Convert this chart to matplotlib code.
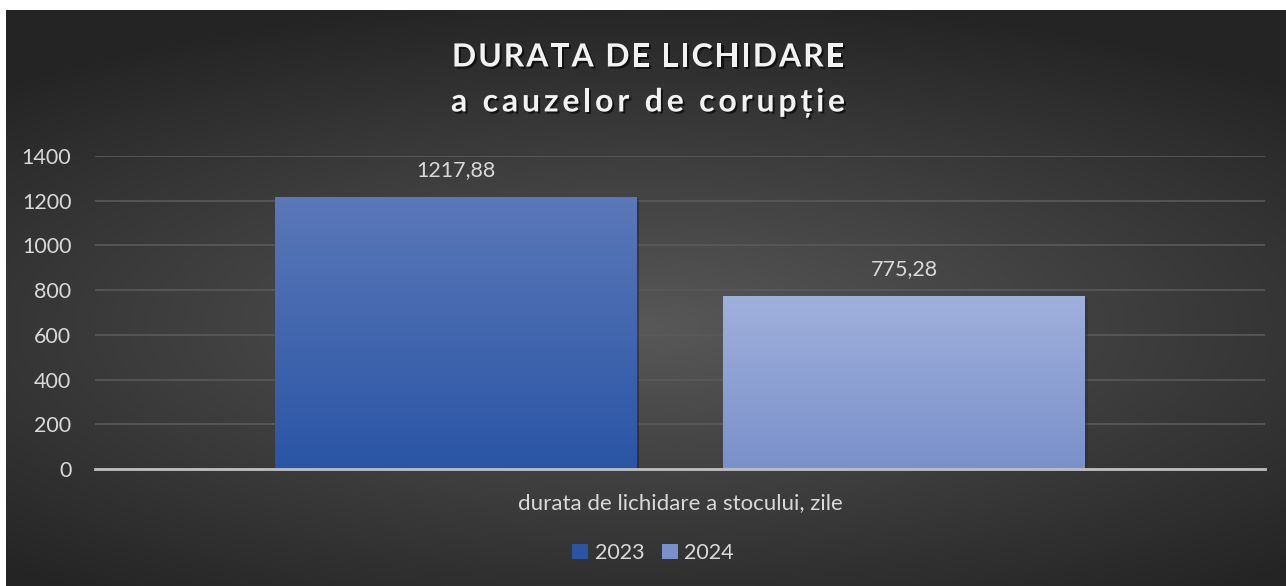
import numpy as np
import matplotlib
matplotlib.use("Agg")
import matplotlib.pyplot as plt
import matplotlib.patheffects as pe
from matplotlib.patches import Patch
from matplotlib.font_manager import FontProperties

plt.rcParams['font.family'] = ['Lato', 'DejaVu Sans']

title_lines = ["DURATA DE LICHIDARE", "a cauzelor de corupție"]
category = "durata de lichidare a stocului, zile"
years = ["2023", "2024"]
values = [1217.88, 775.28]
value_labels = ["1217,88", "775,28"]
yticks = [0, 200, 400, 600, 800, 1000, 1200, 1400]

W, H = 1286, 586
fig = plt.figure(figsize=(W / 100, H / 100), dpi=100)
fig.patch.set_facecolor("white")

# radial gradient background (leave thin white strip on top/left)
bg = fig.add_axes([6 / W, 0, (W - 6) / W, (H - 10) / H])
bg.set_axis_off()
yy, xx = np.mgrid[0:1:300j, 0:1:600j]
r = np.sqrt(((xx - 0.5) * 1.0) ** 2 + ((yy - 0.45) * 1.3) ** 2)
r = np.clip(r / 0.75, 0, 1)
c_in, c_out = np.array([88, 88, 88]) / 255, np.array([36, 36, 36]) / 255
img = c_in[None, None, :] * (1 - r[..., None]) + c_out[None, None, :] * r[..., None]
bg.imshow(img, aspect="auto", extent=[0, 1, 0, 1], origin="lower")
bg.set_xlim(0, 1)
bg.set_ylim(0, 1)

ax = fig.add_axes([95 / W, (H - 469) / H, 1170 / W, 313 / H])
ax.patch.set_alpha(0)

xpos = [-0.1915, 0.1915]
width = 0.309
grads = [("#5b78b9", "#2a55a5"), ("#a0b0dd", "#7a90ca")]
bars = ax.bar(xpos, values, width=width, color=[g[1] for g in grads], zorder=3)
for b, (top, bot) in zip(bars, grads):
    t = np.array(matplotlib.colors.to_rgb(top))
    bt = np.array(matplotlib.colors.to_rgb(bot))
    f = np.linspace(0, 1, 200)[:, None]
    grad = (bt * (1 - f) + t * f)[:, None, :]
    x0 = b.get_x()
    im = ax.imshow(grad, aspect="auto", origin="lower",
                   extent=[x0, x0 + b.get_width(), 0, b.get_height()], zorder=4)
    im.set_clip_path(b)
    b.set_path_effects([pe.SimplePatchShadow(offset=(2, -2), alpha=0.4), pe.Normal()])

ax.set_xlim(-0.5, 0.5)
ax.set_ylim(0, 1400)

for x, v, lab in zip(xpos, values, value_labels):
    ax.text(x, v + 75, lab, ha="center", va="bottom", color="#d9d9d9", fontsize=15.5, zorder=5)

ax.set_yticks(yticks)
ax.set_yticklabels([str(t) for t in yticks], color="#d9d9d9", fontsize=15.5)
ax.tick_params(axis="y", length=0, pad=17)
ax.set_xticks([])
ax.grid(axis="y", color="#5a5a5a", linewidth=1.2, zorder=1)
for s in ["top", "right", "left"]:
    ax.spines[s].set_visible(False)
ax.spines["bottom"].set_color("#bfbfbf")
ax.spines["bottom"].set_linewidth(2)
ax.spines["bottom"].set_zorder(6)

fig.text(680 / W, 1 - 503 / H, category, ha="center", va="center", color="#d9d9d9", fontsize=16)

handles = [Patch(facecolor=grads[0][1], edgecolor="none"), Patch(facecolor=grads[1][1], edgecolor="none")]
fig.legend(handles, years, loc="center", bbox_to_anchor=(653 / W, 1 - 553 / H), ncol=2, frameon=False,
           fontsize=15.5, labelcolor="#d9d9d9", handlelength=0.75, handleheight=0.75, handletextpad=0.3,
           columnspacing=0.8)

# title with letter spacing, placed char by char
renderer = fig.canvas.get_renderer()
fp = FontProperties(family=["Lato", "DejaVu Sans"], weight="bold", size=23)
shadow = [pe.withSimplePatchShadow(offset=(1.5, -1.5), shadow_rgbFace="black", alpha=0.6)]


def text_w(s):
    w, _, _ = renderer.get_text_width_height_descent(s + "x", fp, ismath=False)
    wx, _, _ = renderer.get_text_width_height_descent("x", fp, ismath=False)
    return w - wx


for line, yc, tracking in zip(title_lines, [57, 102], [1.9, 3.8]):
    offs = [text_w(line[:i]) + tracking * i for i in range(len(line))]
    total = text_w(line) + tracking * (len(line) - 1)
    x0 = 648 - total / 2
    for ch, o in zip(line, offs):
        if ch == " ":
            continue
        fig.text((x0 + o) / W, 1 - yc / H, ch, ha="left", va="center", color="#f2f2f2",
                 fontproperties=fp, path_effects=shadow)

fig.savefig("out.png", dpi=100, facecolor=fig.get_facecolor())
